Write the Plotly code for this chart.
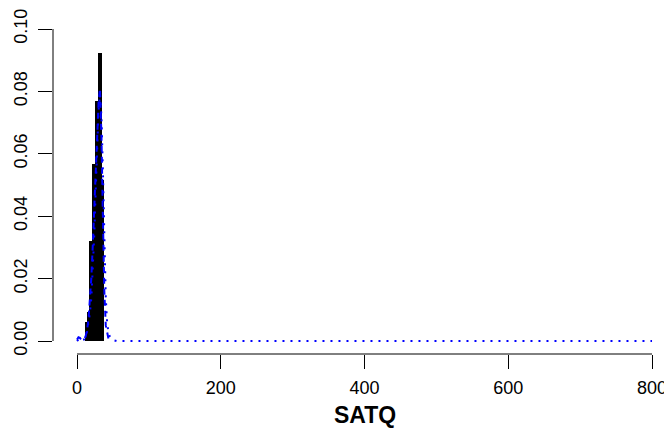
import plotly.graph_objects as go

# Histogram (density) of SATQ: bin edges and bar heights
bin_edges = [10.5, 15.0, 16.5, 21.0, 25.0, 29.5, 34.5, 38.0]
bin_density = [0.0060, 0.0094, 0.0320, 0.0567, 0.0770, 0.0924, 0.0516]

# Dashed blue density estimate
dash_x = [0, 2, 4, 6, 8, 10, 12, 14, 16, 18, 20, 22, 24, 26, 28, 30, 32, 34, 36, 38, 40, 42, 44, 46]
dash_y = [0.0005, 0.0012, 0.0010, 0.0004, 0.0003, 0.0006, 0.0015, 0.0035, 0.0070, 0.0125,
          0.0205, 0.0310, 0.0430, 0.0555, 0.0670, 0.0765, 0.0810, 0.0660, 0.0400, 0.0160,
          0.0050, 0.0020, 0.0005, 0.0]

# Dotted blue density over the full range
dot_x = [0, 3, 6, 10, 14, 18, 20, 22, 24, 26, 28, 30, 32, 34, 36, 38, 40, 42, 44, 46, 50, 55, 800]
dot_y = [0.0, 0.0008, 0.0002, 0.0005, 0.003, 0.009, 0.014, 0.022, 0.034, 0.048, 0.062, 0.074,
         0.079, 0.072, 0.055, 0.034, 0.014, 0.0055, 0.0025, 0.0012, 0.0003, 0.0, 0.0]

x_ticks = [0, 200, 400, 600, 800]
y_ticks = [0.00, 0.02, 0.04, 0.06, 0.08, 0.10]
y_tick_text = ["0.00", "0.02", "0.04", "0.06", "0.08", "0.10"]

centers = [(a + b) / 2 for a, b in zip(bin_edges[:-1], bin_edges[1:])]
widths = [b - a for a, b in zip(bin_edges[:-1], bin_edges[1:])]

FONT = "Liberation Sans, Arial, sans-serif"

fig = go.Figure()
fig.add_trace(go.Bar(x=centers, y=bin_density, width=widths,
                     marker=dict(color="black", line=dict(width=0)),
                     showlegend=False, hoverinfo="skip"))
fig.add_trace(go.Scatter(x=dot_x, y=dot_y, mode="lines",
                         line=dict(color="#0000ff", width=2, dash="2px,6px"),
                         showlegend=False))
fig.add_trace(go.Scatter(x=dash_x, y=dash_y, mode="lines",
                         line=dict(color="#0000ff", width=2, dash="6px,5px"),
                         showlegend=False))

# page body adds an 8px offset, so the figure is 8px smaller than the window
fig.update_layout(
    width=664, height=425,
    margin=dict(l=45, r=0, t=9, b=79, autoexpand=False),
    paper_bgcolor="white", plot_bgcolor="white",
    font=dict(family=FONT, size=18, color="black"),
    bargap=0,
    xaxis=dict(range=[-33.4, 827.8], tickvals=x_ticks, ticks="outside", ticklen=14,
               tickwidth=1, tickcolor="black", showline=False, showgrid=False,
               zeroline=False, tickfont=dict(size=18), ticklabelstandoff=3,
               automargin=False),
    yaxis=dict(range=[-0.004167, 0.103846], tickvals=y_ticks, ticktext=y_tick_text,
               ticks="outside", ticklen=14, tickwidth=1, tickcolor="black",
               showline=False, showgrid=False, zeroline=False, tickangle=-90,
               tickfont=dict(size=18), ticklabelstandoff=4, automargin=False),
    shapes=[
        dict(type="line", xref="x", yref="paper", x0=0, x1=800, y0=0, y1=0,
             line=dict(color="black", width=1)),
        dict(type="line", xref="paper", yref="y", x0=0, x1=0, y0=0, y1=0.1,
             line=dict(color="black", width=1)),
    ],
    annotations=[
        dict(text="<b>SATQ</b>", x=400, xref="x", y=-0.181, yref="paper",
             yanchor="middle", xanchor="center", showarrow=False,
             font=dict(family=FONT, size=23, color="black")),
    ],
)

fig.write_html("out.html")
